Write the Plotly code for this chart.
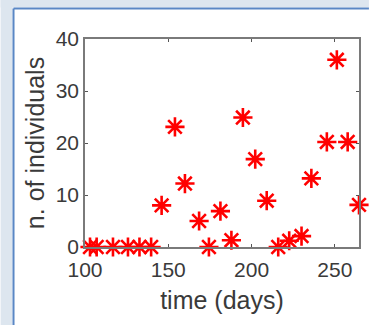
import plotly.graph_objects as go

days = [103, 107, 116.8, 125.8, 132.7, 139.7, 146, 154, 160, 168.5, 174.4, 181.3,
        187.9, 194.8, 202.2, 209.1, 216, 222.6, 230, 235.9, 245.2, 251.2, 257.7, 264.5]
individuals = [0, 0, 0, 0, 0, 0, 8, 23.1, 12.2, 5, 0, 6.9,
               1.3, 24.9, 16.9, 8.9, 0, 1.2, 2.1, 13.2, 20.2, 36, 20.2, 8.1]
x_ticks = [100, 150, 200, 250]
y_ticks = [0, 10, 20, 30, 40]

W, H = 371, 325
L, R, T, B = 85, 361, 39, 247

def px_x(p):
    return (p - L) / (R - L)

def px_y(p):
    return (B - p) / (B - T)

fig = go.Figure()
fig.add_trace(go.Scatter(
    x=days, y=individuals, mode="markers", cliponaxis=False,
    marker=dict(symbol="asterisk-open", size=16, color="#ff0000",
                line=dict(color="#ff0000", width=2.6)),
))

axis_common = dict(showline=True, linecolor="#7a7a7a", linewidth=1.5, mirror="ticks",
                   ticks="inside", ticklen=3, tickwidth=1, tickcolor="#555555",
                   showgrid=False, zeroline=False,
                   tickfont=dict(family="Liberation Sans, Arial", size=21, color="#3a3a3a"))

border = "#5a87c5"
fig.update_layout(
    width=W, height=H,
    margin=dict(l=L, r=W - R, t=T, b=H - B, pad=0),
    paper_bgcolor="white", plot_bgcolor="white",
    showlegend=False,
    xaxis=dict(range=[100, 264.5], tickvals=x_ticks, ticktext=[str(v) for v in x_ticks],
               ticklabelstandoff=3,
               title=dict(text="time (days)", standoff=12,
                          font=dict(family="Liberation Sans, Arial", size=25, color="#3a3a3a")),
               **axis_common),
    yaxis=dict(range=[0, 40], tickvals=y_ticks, ticktext=[str(v) for v in y_ticks],
               title=dict(text="n. of individuals", standoff=4,
                          font=dict(family="Liberation Sans, Arial", size=25, color="#3a3a3a")),
               **axis_common),
    shapes=[
        dict(type="rect", xref="paper", yref="paper", layer="below",
             x0=px_x(0), x1=px_x(12), y0=px_y(H), y1=px_y(0),
             fillcolor="#dde6ef", line=dict(width=0)),
        dict(type="rect", xref="paper", yref="paper", layer="below",
             x0=px_x(0), x1=px_x(W), y0=px_y(7.5), y1=px_y(0),
             fillcolor="#dde6ef", line=dict(width=0)),
        dict(type="line", xref="paper", yref="paper", layer="below",
             x0=px_x(13), x1=px_x(13), y0=px_y(H), y1=px_y(8.5),
             line=dict(color=border, width=2)),
        dict(type="line", xref="paper", yref="paper", layer="below",
             x0=px_x(13), x1=px_x(W), y0=px_y(8.5), y1=px_y(8.5),
             line=dict(color=border, width=2)),
    ],
)

fig.write_html(
    "out.html", config={"displayModeBar": False},
    post_script=("document.documentElement.style.overflow='hidden';"
                 "document.body.style.margin='0';document.body.style.overflow='hidden';"))
